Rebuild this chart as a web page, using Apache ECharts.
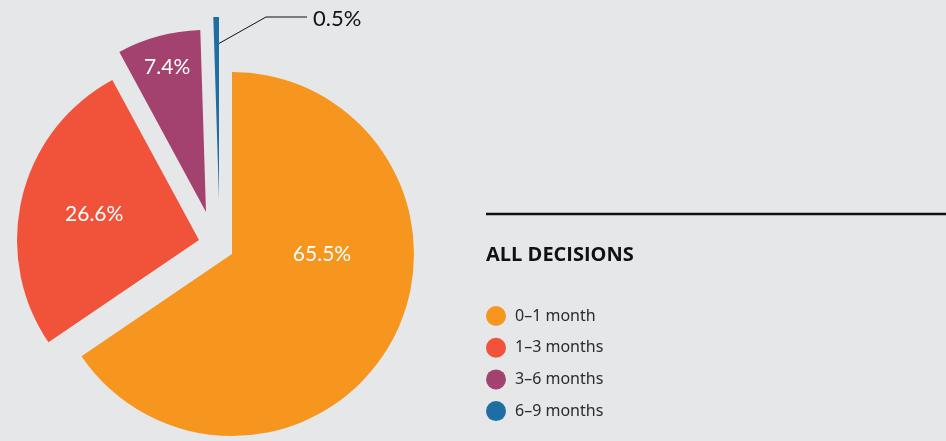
<!DOCTYPE html>
<html>
<head>
<meta charset="utf-8">
<script src="https://cdn.jsdelivr.net/npm/echarts@6/dist/echarts.min.js"></script>
<style>
  html, body { margin: 0; padding: 0; background: #e6e7e8; }
  #chart { width: 946px; height: 441px; }
</style>
</head>
<body>
<div id="chart"></div>
<script>
// data
const names = ['0–1 month', '1–3 months', '3–6 months', '6–9 months'];
const shares = [65.5, 26.6, 7.4, 0.5];
const colors = ['#f6961f', '#f1523a', '#a3416f', '#1e6ea3'];

// each slice is pulled out by its own amount, so every slice gets its own pie centre
const centers = [[232, 254], [199, 240], [206, 212], [219, 199]];
const R = 182;
// where the inside labels sit: angle clockwise from 12 o'clock, distance from the slice apex
const labelSpots = [[90, 90], [284, 108], [345, 150]];

const chart = echarts.init(document.getElementById('chart'));

function sliceSeries(i) {
  const [cx, cy] = centers[i];
  return {
    type: 'pie',
    center: [cx, cy],
    radius: [0, R],
    startAngle: 90,
    clockwise: true,
    avoidLabelOverlap: false,
    silent: true,
    emphasis: { disabled: true },
    data: shares.map((v, j) => ({
      name: names[j],
      value: v,
      itemStyle: { color: j === i ? colors[j] : 'rgba(0,0,0,0)', borderWidth: 0 },
      label: { show: j === i },
      labelLine: { show: j === i && i === 3 }
    })),
    label: {
      position: i === 3 ? 'outside' : 'inside',
      formatter: p => p.value + '%',
      fontFamily: 'Lato',
      fontSize: i === 3 ? 22 : 21,
      color: i === 3 ? '#111' : '#fff'
    },
    labelLine: { lineStyle: { color: '#111', width: 1 } },
    labelLayout: function () {
      if (i === 3) {
        return {
          x: cx + 94, y: 19, align: 'left', verticalAlign: 'middle',
          labelLinePoints: [[cx - 1, cy - 155], [cx + 47, 17], [cx + 88, 17]]
        };
      }
      const a = labelSpots[i][0] * Math.PI / 180, r = labelSpots[i][1];
      return {
        x: cx + r * Math.sin(a), y: cy - r * Math.cos(a),
        align: 'center', verticalAlign: 'middle'
      };
    }
  };
}

const option = {
  backgroundColor: '#e6e7e8',
  animation: false,
  title: {
    text: 'ALL DECISIONS',
    left: 481,
    top: 240,
    textStyle: { fontFamily: 'Open Sans', fontWeight: 'bold', fontSize: 20, color: '#111' }
  },
  legend: {
    orient: 'vertical',
    left: 481,
    top: 301,
    icon: 'circle',
    itemWidth: 20,
    itemHeight: 20,
    itemGap: 11.7,
    selectedMode: false,
    data: names.map((n, j) => ({ name: n, itemStyle: { color: colors[j] } })),
    textStyle: { fontFamily: 'Noto Sans', fontSize: 16, color: '#2b2b2b', padding: [0, 0, 0, 4] }
  },
  graphic: [{
    type: 'line',
    shape: { x1: 486, y1: 214, x2: 946, y2: 214 },
    style: { stroke: '#111', lineWidth: 2.5 }
  }],
  series: shares.map((v, i) => sliceSeries(i))
};

chart.setOption(option);
</script>
</body>
</html>
